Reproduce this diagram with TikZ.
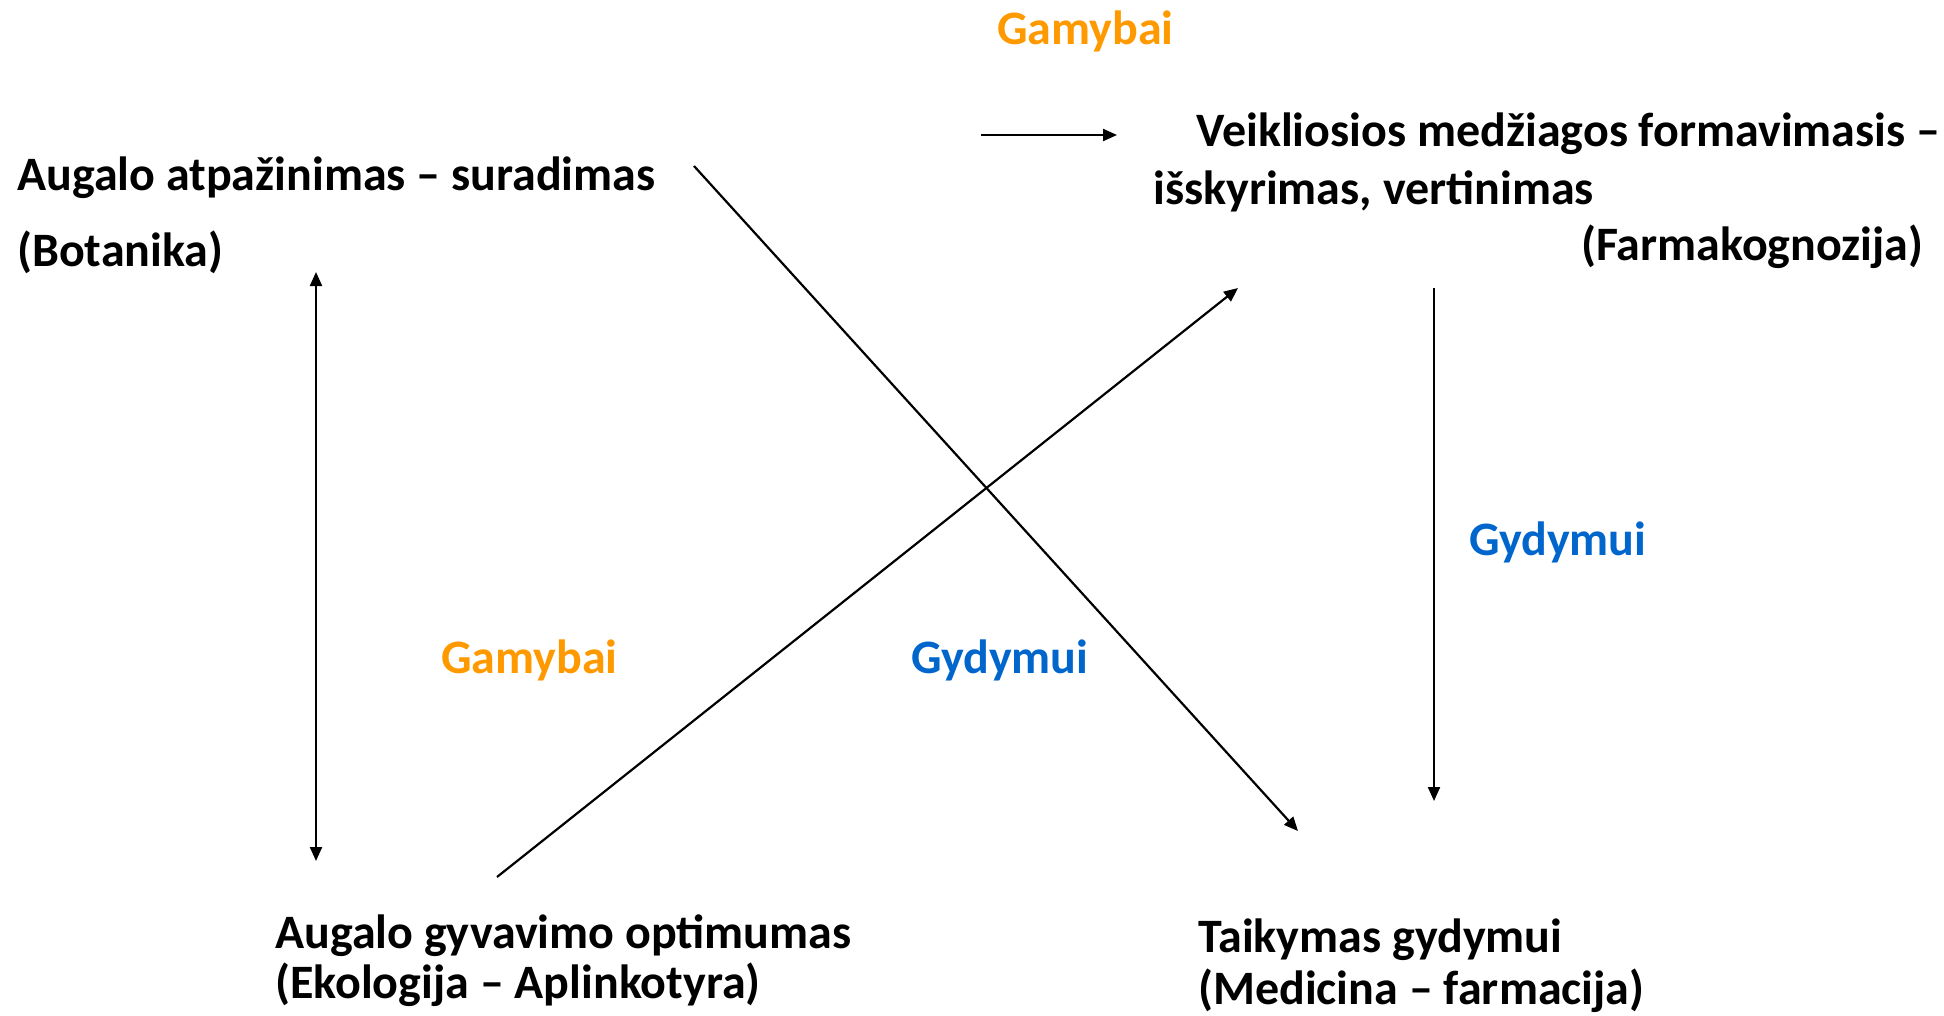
\documentclass[tikz,border=0pt]{standalone}
\usepackage{fontspec}
\setmainfont{Carlito}
\usetikzlibrary{arrows.meta}
\definecolor{gamyba}{HTML}{FF9900}
\definecolor{gydymas}{HTML}{0066CC}
\begin{document}
\begin{tikzpicture}[x=1pt,y=-1pt,
  txt/.style={anchor=base west,inner sep=0pt,font=\fontsize{48}{57}\selectfont\bfseries},
  gam/.style={txt,text=gamyba},
  gyd/.style={txt,text=gydymas},
  conn/.style={line width=2.2pt,-{Triangle[length=14pt,width=12pt]}},
  dconn/.style={line width=2.2pt,{Triangle[length=14pt,width=12pt]}-{Triangle[length=14pt,width=12pt]}}]
\useasboundingbox (0,0) rectangle (1944,1015);
% top left block
\node[txt] (bot1) at (17,190) {Augalo atpažinimas – suradimas};
\node[txt] (bot2) at (17,266) {(Botanika)};
% top right block
\node[gam] (gamTop) at (997,44) {Gamybai};
\node[txt] (far1) at (1196,146) {Veikliosios medžiagos formavimasis –};
\node[txt] (far2) at (1153,204) {išskyrimas, vertinimas};
\node[txt] (far3) at (1581,260) {(Farmakognozija)};
% bottom left
\node[txt] (eko1) at (275,948) {Augalo gyvavimo optimumas};
\node[txt] (eko2) at (275,998) {(Ekologija – Aplinkotyra)};
% bottom right
\node[txt] (med1) at (1198,952) {Taikymas gydymui};
\node[txt] (med2) at (1198,1004) {(Medicina – farmacija)};
% labels
\node[gyd] (gydR) at (1469,555) {Gydymui};
\node[gam] (gamM) at (441,673) {Gamybai};
\node[gyd] (gydM) at (911,673) {Gydymui};
% connector end points
\coordinate (hA) at (981,135);
\coordinate (hB) at (1117,135);
\coordinate (vA) at (316,272);
\coordinate (vB) at (316,861);
\coordinate (dA) at (694,166);
\coordinate (dB) at (1298,831);
\coordinate (uA) at (497,877);
\coordinate (uB) at (1238,288);
\coordinate (rA) at (1434,288);
\coordinate (rB) at (1434,801);
\draw[conn] (hA) -- (hB);
\draw[dconn] (vA) -- (vB);
\draw[conn] (dA) -- (dB);
\draw[conn] (uA) -- (uB);
\draw[conn] (rA) -- (rB);
\end{tikzpicture}
\end{document}
